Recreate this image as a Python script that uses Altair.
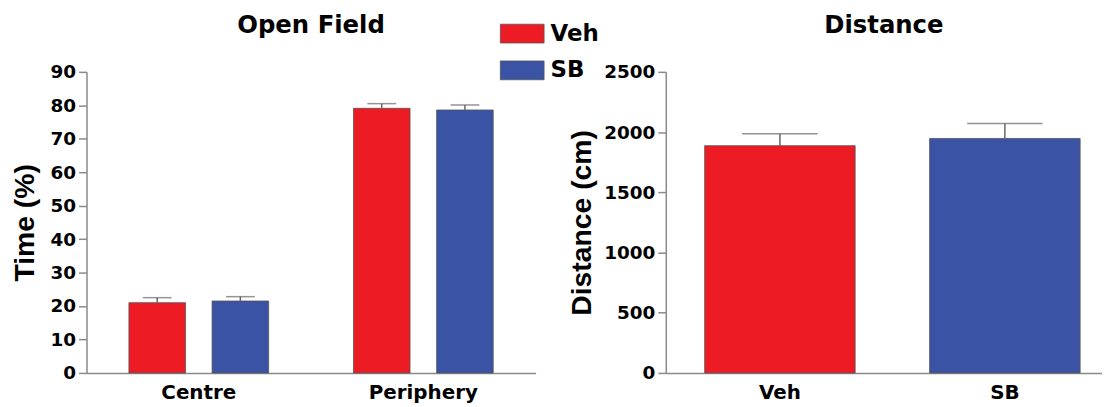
import altair as alt
import pandas as pd

# ---- data ----
groups = ["Centre", "Centre", "Periphery", "Periphery"]
treatments = ["Veh", "SB", "Veh", "SB"]
time_mean = [21.0, 21.5, 79.1, 78.6]
time_upper = [22.5, 22.8, 80.5, 80.1]

dist_treatments = ["Veh", "SB"]
dist_mean = [1887, 1947]
dist_upper = [1986, 2071]

time_ticks = [0, 10, 20, 30, 40, 50, 60, 70, 80, 90]
dist_ticks = [0, 500, 1000, 1500, 2000, 2500]

tdf = pd.DataFrame({"group": groups, "treatment": treatments,
                    "mean": time_mean, "upper": time_upper})
ddf = pd.DataFrame({"treatment": dist_treatments,
                    "mean": dist_mean, "upper": dist_upper})

RED, BLUE = "#ED1C24", "#3A53A4"
AX = "#8a8a8a"
ERR = "#666666"
HFONT = "DejaVu Sans"
VFONT = "Liberation Sans"

color = alt.Color(
    "treatment:N",
    scale=alt.Scale(domain=["Veh", "SB"], range=[RED, BLUE]),
    legend=alt.Legend(
        title=None, orient="none", legendX=416, legendY=-61,
        symbolType="M-1,-0.43L1,-0.43L1,0.43L-1,0.43Z", symbolSize=1936,
        symbolStrokeColor="#555", symbolStrokeWidth=0.8, symbolOpacity=1,
        labelFont=HFONT, labelFontSize=23, labelFontWeight="bold",
        labelColor="black", labelOffset=6, rowPadding=2,
    ),
)

def yaxis(title, values, tpad):
    return alt.Axis(
        title=title, values=values, grid=False, format="d", labelOverlap=False,
        domainColor=AX, domainWidth=1.5, tickColor=AX, tickWidth=1.5,
        tickSize=8, labelPadding=3,
        labelFont=HFONT, labelFontSize=18.5, labelFontWeight="bold", labelColor="black",
        titleFont=VFONT, titleFontSize=28.5, titleFontWeight="bold", titleColor="black",
        titlePadding=tpad,
    )

def xaxis():
    return alt.Axis(
        title=None, ticks=False, labelAngle=0, labelPadding=10,
        domainColor=AX, domainWidth=1.5,
        labelFont=HFONT, labelFontSize=20, labelFontWeight="bold", labelColor="black",
    )

def title(text):
    return alt.Title(text, font=HFONT, fontSize=24.5, fontWeight="bold",
                     anchor="middle", frame="group", offset=25, color="black")

# ---- left panel ----
xl = alt.X("group:N", sort=["Centre", "Periphery"],
           scale=alt.Scale(paddingInner=0, paddingOuter=0), axis=xaxis())
xo = alt.XOffset("treatment:N", sort=["Veh", "SB"],
                 scale=alt.Scale(paddingInner=0.32, paddingOuter=0.51))
yscale_l = alt.Scale(domain=[0, 90], nice=False, zero=True)
yax_l = yaxis("Time (%)", time_ticks, 11)

base_l = alt.Chart(tdf)
bars_l = base_l.mark_bar(stroke="#555", strokeWidth=0.8).encode(
    x=xl, xOffset=xo, y=alt.Y("mean:Q", scale=yscale_l, axis=yax_l), color=color)
rule_l = base_l.mark_rule(color=ERR, strokeWidth=1.5).encode(
    x=xl, xOffset=xo, y=alt.Y("mean:Q", scale=yscale_l, axis=yax_l), y2="upper:Q")
cap_l = base_l.mark_tick(color=ERR, thickness=1.5, size=29).encode(
    x=xl, xOffset=xo, y=alt.Y("upper:Q", scale=yscale_l, axis=yax_l))
left = alt.layer(bars_l, rule_l, cap_l).properties(width=452, height=303, title=title("Open Field"))

# ---- right panel ----
xr = alt.X("treatment:N", sort=["Veh", "SB"],
           scale=alt.Scale(paddingInner=0.331, paddingOuter=0.135, align=0.64), axis=xaxis())
yscale_r = alt.Scale(domain=[0, 2500], nice=False, zero=True)
yax_r = yaxis("Distance (cm)", dist_ticks, 7)

base_r = alt.Chart(ddf)
bars_r = base_r.mark_bar(stroke="#555", strokeWidth=0.8).encode(
    x=xr, y=alt.Y("mean:Q", scale=yscale_r, axis=yax_r), color=color)
rule_r = base_r.mark_rule(color=ERR, strokeWidth=1.5).encode(
    x=xr, y=alt.Y("mean:Q", scale=yscale_r, axis=yax_r), y2="upper:Q")
cap_r = base_r.mark_tick(color=ERR, thickness=1.5, size=76).encode(
    x=xr, y=alt.Y("upper:Q", scale=yscale_r, axis=yax_r))
right = alt.layer(bars_r, rule_r, cap_r).properties(width=439, height=303, title=title("Distance"))

chart = alt.hconcat(left, right, spacing=32).properties(
    padding={"left": 2, "top": 2, "right": 0, "bottom": 0}
).configure_view(stroke=None).resolve_scale(y="independent")

chart.save("out.html", embed_options={"renderer": "svg", "actions": False})
